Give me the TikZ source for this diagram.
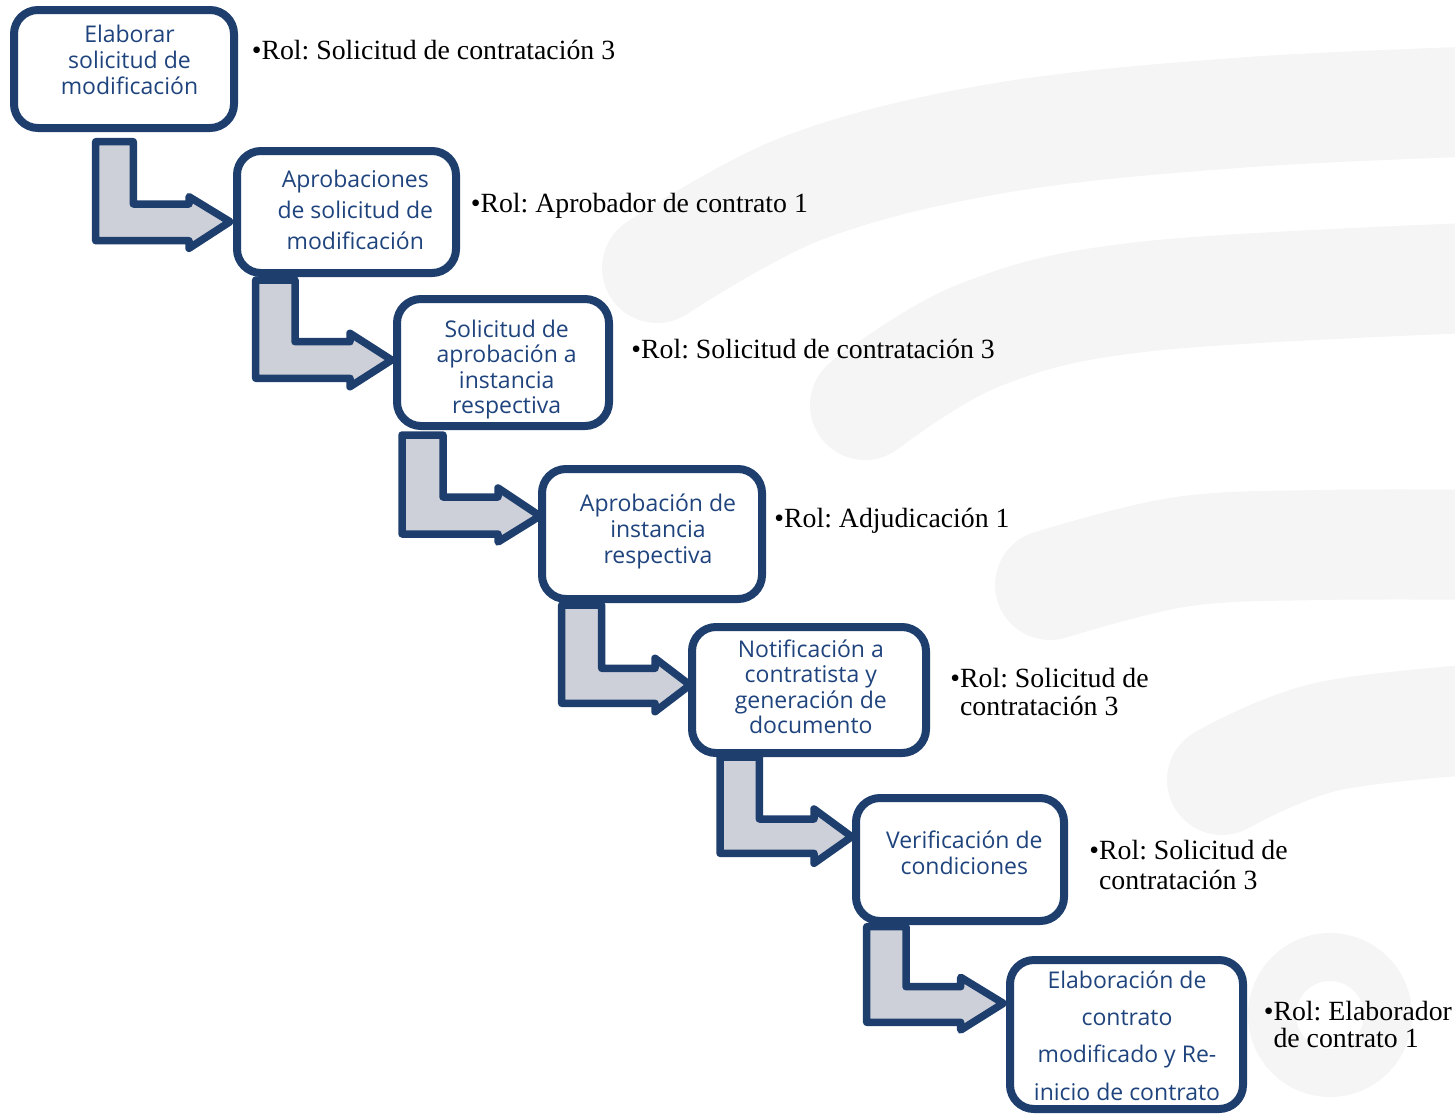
\documentclass[tikz,border=0pt]{standalone}
\usepackage{fontspec}
\setmainfont{Liberation Serif}
\newfontfamily\boxfont{Open Sans}
\frenchspacing
\definecolor{navy}{RGB}{30,63,110}
\definecolor{boxtext}{RGB}{31,68,125}
\definecolor{arrowfill}{RGB}{205,208,216}
\definecolor{wm}{RGB}{245,245,245}
\begin{document}
\begin{tikzpicture}[x=0.5pt,y=-0.5pt,
  stepbox/.style={draw=navy, line width=4pt, fill=white, rounded corners=12pt, inner sep=0pt},
  steptext/.style={text=boxtext, font=\boxfont\fontsize{11.5}{#1}\selectfont, inner sep=0pt, anchor=base},
  roletext/.style={text=black, font=\frenchspacing\fontsize{13.9}{#1}\selectfont, inner sep=0pt, anchor=base west},
  bentarrow/.style={draw=navy, fill=arrowfill, line width=3.75pt, line join=round},
  watermark/.style={draw=wm, line width=55pt, line cap=round}
]
\useasboundingbox (0,0) rectangle (1455,1114);

% watermark
\draw[watermark] plot[smooth, tension=0.6] coordinates {(657,268) (803,188) (1000,138) (1250,112) (1520,100)};
\draw[watermark] plot[smooth, tension=0.6] coordinates {(865,405) (980,335) (1150,296) (1520,276)};
\draw[watermark] plot[smooth, tension=0.6] coordinates {(1050,585) (1180,552) (1320,545) (1520,545)};
\draw[watermark] plot[smooth, tension=0.6] coordinates {(1222,780) (1330,736) (1520,716)};
\draw[draw=wm, line width=24pt] (1330,1015) circle (29pt);

% bent arrows
\draw[bentarrow] (95.7,141.7) -- (133.3,141.7) -- (133.3,204) -- (189,204) -- (189,196.7) -- (230,221.7) -- (189,248.3) -- (189,240.7) -- (95.7,240.7) -- cycle;
\draw[bentarrow] (255.7,280) -- (295,280) -- (295,341.7) -- (350,341.7) -- (350,333.3) -- (391.7,360) -- (350,386.7) -- (350,378.3) -- (255.7,378.3) -- cycle;
\draw[bentarrow] (402,435) -- (443,435) -- (443,497) -- (498,497) -- (498,488) -- (540,516) -- (498,542) -- (498,534) -- (402,534) -- cycle;
\draw[bentarrow] (561.7,605) -- (601.7,605) -- (601.7,668.3) -- (655,668.3) -- (655,658.3) -- (690,685) -- (655,711.7) -- (655,703.3) -- (561.7,703.3) -- cycle;
\draw[bentarrow] (720,757) -- (759.3,757) -- (759.3,819) -- (814,819) -- (814,809) -- (851.7,836.7) -- (814,863.3) -- (814,853.3) -- (720,853.3) -- cycle;
\draw[bentarrow] (866.7,926.7) -- (906,926.7) -- (906,986.7) -- (960.7,986.7) -- (960.7,977.3) -- (1003.3,1003.3) -- (960.7,1030) -- (960.7,1022.3) -- (866.7,1022.3) -- cycle;

% boxes
\node[stepbox, minimum width=110pt, minimum height=59pt] (b1) at (124,69) {};
\node[stepbox, minimum width=109.5pt, minimum height=61pt] (b2) at (346.5,212) {};
\node[stepbox, minimum width=106pt, minimum height=63.5pt] (b3) at (503,362.5) {};
\node[stepbox, minimum width=110pt, minimum height=65pt] (b4) at (652,534) {};
\node[stepbox, minimum width=117pt, minimum height=63pt] (b5) at (809,690) {};
\node[stepbox, minimum width=104pt, minimum height=61.5pt] (b6) at (960,859.5) {};
\node[stepbox, minimum width=116.5pt, minimum height=74.5pt] (b7) at (1126.5,1034.5) {};

% box texts
\node[steptext=13.15pt] (t1) at (129.5,42) {\begin{tabular}[t]{@{}c@{}}Elaborar\\solicitud de\\modificación\end{tabular}};
\node[steptext=15.5pt] (t2) at (355.3,187.3) {\begin{tabular}[t]{@{}c@{}}Aprobaciones\\de solicitud de\\modificación\end{tabular}};
\node[steptext=12.7pt] (t3) at (506.7,337.3) {\begin{tabular}[t]{@{}c@{}}Solicitud de\\aprobación a\\instancia\\respectiva\end{tabular}};
\node[steptext=13pt] (t4) at (658,511.5) {\begin{tabular}[t]{@{}c@{}}Aprobación de\\instancia\\respectiva\end{tabular}};
\node[steptext=12.7pt] (t5) at (810.8,657.3) {\begin{tabular}[t]{@{}c@{}}Notificación a\\contratista y\\generación de\\documento\end{tabular}};
\node[steptext=13pt] (t6) at (964.3,848.5) {\begin{tabular}[t]{@{}c@{}}Verificación de\\condiciones\end{tabular}};
\node[steptext=18.65pt] (t7) at (1127,988.3) {\begin{tabular}[t]{@{}c@{}}Elaboración de\\contrato\\modificado y Re-\\inicio de contrato\end{tabular}};

% role texts
\node[roletext=14pt] (r1) at (251.4,59) {\textbullet Rol: Solicitud de contratación 3};
\node[roletext=14pt] (r2) at (470.4,212) {\textbullet Rol: Aprobador de contrato 1};
\node[roletext=14pt] (r3) at (631,358) {\textbullet Rol: Solicitud de contratación 3};
\node[roletext=14pt] (r4) at (774,527) {\textbullet Rol: Adjudicación 1};
\node[roletext=14pt] (r5) at (950,687) {\begin{tabular}[t]{@{}l@{}l@{}}\textbullet&Rol: Solicitud de\\&contratación 3\end{tabular}};
\node[roletext=15pt] (r6) at (1089,859) {\begin{tabular}[t]{@{}l@{}l@{}}\textbullet&Rol: Solicitud de\\&contratación 3\end{tabular}};
\node[roletext=13pt] (r7) at (1263.4,1020) {\begin{tabular}[t]{@{}l@{}l@{}}\textbullet&Rol: Elaborador\\&de contrato 1\end{tabular}};
\end{tikzpicture}
\end{document}
